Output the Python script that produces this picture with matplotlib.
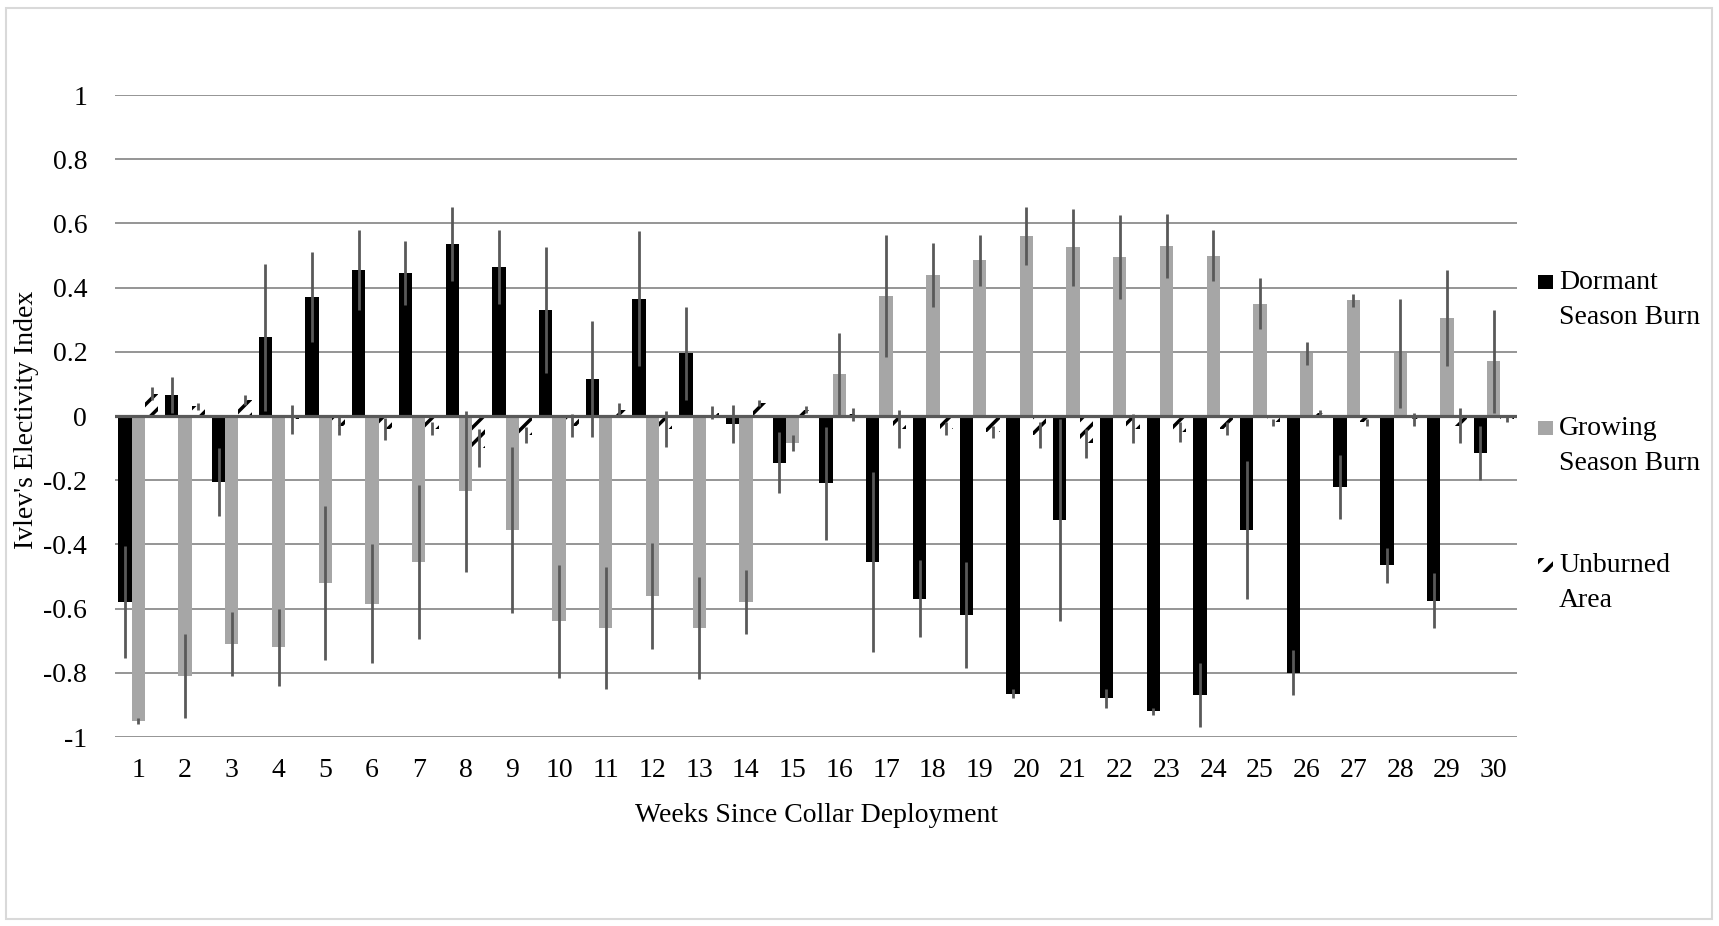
import matplotlib
matplotlib.use('Agg')
import matplotlib.pyplot as plt
import numpy as np
from matplotlib.patches import Rectangle

plt.rcParams['font.family'] = ['Liberation Serif', 'DejaVu Serif']
plt.rcParams['hatch.linewidth'] = 2.5

weeks = np.arange(1, 31)
week_labels = [str(w) for w in weeks]

dormant = [-0.58, 0.065, -0.205, 0.245, 0.37, 0.455, 0.445, 0.535, 0.465, 0.33,
           0.115, 0.365, 0.195, -0.025, -0.145, -0.21, -0.455, -0.57, -0.62, -0.865,
           -0.325, -0.88, -0.92, -0.87, -0.355, -0.80, -0.22, -0.465, -0.575, -0.115]
dormant_err = [0.175, 0.055, 0.105, 0.23, 0.14, 0.125, 0.10, 0.115, 0.115, 0.195,
               0.18, 0.21, 0.145, 0.06, 0.095, 0.175, 0.28, 0.12, 0.165, 0.015,
               0.315, 0.03, 0.01, 0.10, 0.215, 0.07, 0.10, 0.055, 0.085, 0.085]

growing = [-0.95, -0.81, -0.71, -0.72, -0.52, -0.585, -0.455, -0.235, -0.355, -0.64,
           -0.66, -0.56, -0.66, -0.58, -0.085, 0.13, 0.375, 0.44, 0.485, 0.56,
           0.525, 0.495, 0.53, 0.50, 0.35, 0.195, 0.36, 0.195, 0.305, 0.17]
growing_err = [0.01, 0.13, 0.10, 0.12, 0.24, 0.185, 0.24, 0.25, 0.26, 0.175,
               0.19, 0.165, 0.16, 0.10, 0.025, 0.13, 0.19, 0.10, 0.08, 0.09,
               0.12, 0.13, 0.10, 0.08, 0.08, 0.035, 0.02, 0.17, 0.15, 0.16]

unburned = [0.07, 0.03, 0.05, -0.01, -0.03, -0.04, -0.04, -0.10, -0.06, -0.03,
            0.02, -0.04, 0.01, 0.04, 0.02, 0.005, -0.04, -0.04, -0.05, -0.06,
            -0.085, -0.04, -0.05, -0.04, -0.02, 0.01, -0.02, -0.01, -0.03, -0.01]
unburned_err = [0.02, 0.01, 0.015, 0.045, 0.03, 0.035, 0.02, 0.06, 0.025, 0.035,
                0.02, 0.055, 0.02, 0.01, 0.01, 0.02, 0.06, 0.02, 0.02, 0.04,
                0.045, 0.045, 0.03, 0.02, 0.01, 0.01, 0.01, 0.02, 0.055, 0.01]

series_names = [('Dormant', 'Season Burn'), ('Growing', 'Season Burn'), ('Unburned', 'Area')]

fig = plt.figure(figsize=(17.19, 9.26), dpi=100)
ax = fig.add_axes([0.0669, 0.2041, 0.8156, 0.6933])

fs = 20
w = 0.285
err_kw = dict(ecolor='#595959', elinewidth=2, capsize=0)
ax.bar(weeks - w, dormant, w, color='black', yerr=dormant_err, error_kw=err_kw, zorder=3)
ax.bar(weeks, growing, w, color='#a6a6a6', yerr=growing_err, error_kw=err_kw, zorder=3)
ax.bar(weeks + w, unburned, w, color='white', edgecolor='black', hatch='//', linewidth=0,
       yerr=unburned_err, error_kw=err_kw, zorder=3)

ax.set_xlim(0.5, 30.5)
ax.set_ylim(-1, 1)
ax.set_yticks(np.arange(-1, 1.01, 0.2))
ax.set_yticklabels(['-1', '-0.8', '-0.6', '-0.4', '-0.2', '0', '0.2', '0.4', '0.6', '0.8', '1'])
ax.set_xticks(weeks)
ax.set_xticklabels(week_labels)
ax.tick_params(axis='both', length=0, labelsize=fs)
ax.tick_params(axis='x', pad=15)
ax.tick_params(axis='y', pad=20)
ax.grid(axis='y', color='#8c8c8c', linewidth=1.3, zorder=0)
ax.axhline(0, color='#595959', linewidth=2.3, zorder=4)
for s in ax.spines.values():
    s.set_visible(False)

ax.set_xlabel('Weeks Since Collar Deployment', fontsize=fs, va='center')
ax.xaxis.set_label_coords(0.5, -0.1215)
ax.set_ylabel("Ivlev's Electivity Index", fontsize=fs, va='center')
ax.yaxis.set_label_coords(-0.0628, 0.494)

# legend at the right, marker aligned with first line of each label
leg_base = [289, 435, 572]  # first-line baselines, pixels from top
leg_face = ['black', '#a6a6a6', 'white']
leg_hatch = [None, None, '//']
H = 926.0
for b, (l1, l2), fc, h in zip(leg_base, series_names, leg_face, leg_hatch):
    fig.patches.append(Rectangle((1538 / 1719, 1 - b / H), 15 / 1719, 14 / H,
                                 transform=fig.transFigure, facecolor=fc,
                                 edgecolor='black', linewidth=0, hatch=h))
    fig.text(1559 / 1719, 1 - b / H, l1, fontsize=fs, va='baseline', ha='left')
    fig.text(1559 / 1719, 1 - (b + 35) / H, l2, fontsize=fs, va='baseline', ha='left')

# chart area border
fig.patches.append(Rectangle((0.0035, 0.0076), 0.9924, 0.9838, transform=fig.transFigure,
                             fill=False, edgecolor='#d9d9d9', linewidth=1.5))

fig.savefig('out.png', dpi=100)
